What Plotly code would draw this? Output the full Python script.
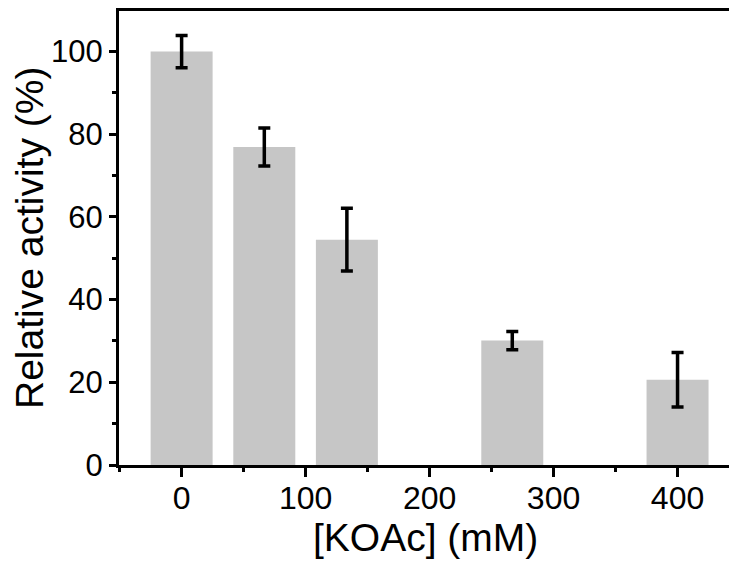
import plotly.graph_objects as go

koac_mM = [0, 66.7, 133.3, 266.7, 400]
activity = [100.0, 76.9, 54.5, 30.1, 20.6]
err = [3.9, 4.6, 7.6, 2.2, 6.6]
x_tickvals = [0, 100, 200, 300, 400]
y_tickvals = [0, 20, 40, 60, 80, 100]
x_title = "[KOAc] (mM)"
y_title = "Relative activity (%)"

FONT = "Liberation Sans, Arial, Helvetica, sans-serif"

fig = go.Figure()
fig.add_trace(go.Bar(
    x=koac_mM, y=activity, width=50,
    marker=dict(color="#c6c6c6", line=dict(width=0)),
    error_y=dict(type="data", array=err, visible=True,
                 color="black", thickness=3.5, width=6),
))

fig.update_layout(
    width=729, height=562,
    margin=dict(l=119, r=0, t=11, b=97),
    paper_bgcolor="white", plot_bgcolor="white",
    showlegend=False,
    font=dict(family=FONT, color="black"),
    xaxis=dict(
        range=[-50.5, 441.5], automargin=False,
        tickvals=x_tickvals, ticktext=[str(v) for v in x_tickvals],
        ticks="outside", ticklen=9, tickwidth=3, tickcolor="black",
        ticklabelstandoff=-6,
        minor=dict(dtick=50, tick0=0, ticks="outside", ticklen=4, tickwidth=3, tickcolor="black"),
        showline=True, linewidth=3, linecolor="black", mirror=True,
        showgrid=False, zeroline=False,
        tickfont=dict(size=32, family=FONT),
    ),
    yaxis=dict(
        range=[0, 109.8], automargin=False,
        tickvals=y_tickvals, ticktext=[str(v) for v in y_tickvals],
        ticks="outside", ticklen=7, tickwidth=3, tickcolor="black",
        minor=dict(dtick=10, tick0=0, ticks="outside", ticklen=4, tickwidth=3, tickcolor="black"),
        showline=True, linewidth=3, linecolor="black", mirror=False,
        showgrid=False, zeroline=False,
        tickfont=dict(size=31, family=FONT),
    ),
    annotations=[
        dict(text=x_title, xref="paper", yref="paper", x=0.503, y=0,
             xanchor="center", yanchor="middle", yshift=-72, showarrow=False,
             font=dict(size=39, family=FONT, color="black")),
        dict(text=y_title, xref="paper", yref="paper", x=0, y=0.5, textangle=-90,
             xanchor="center", yanchor="middle", xshift=-90, showarrow=False,
             font=dict(size=39, family=FONT, color="black")),
    ],
)

fig.write_html("out.html", config={"displayModeBar": False},
               post_script="document.body.style.margin='0';document.body.style.overflow='hidden';")
